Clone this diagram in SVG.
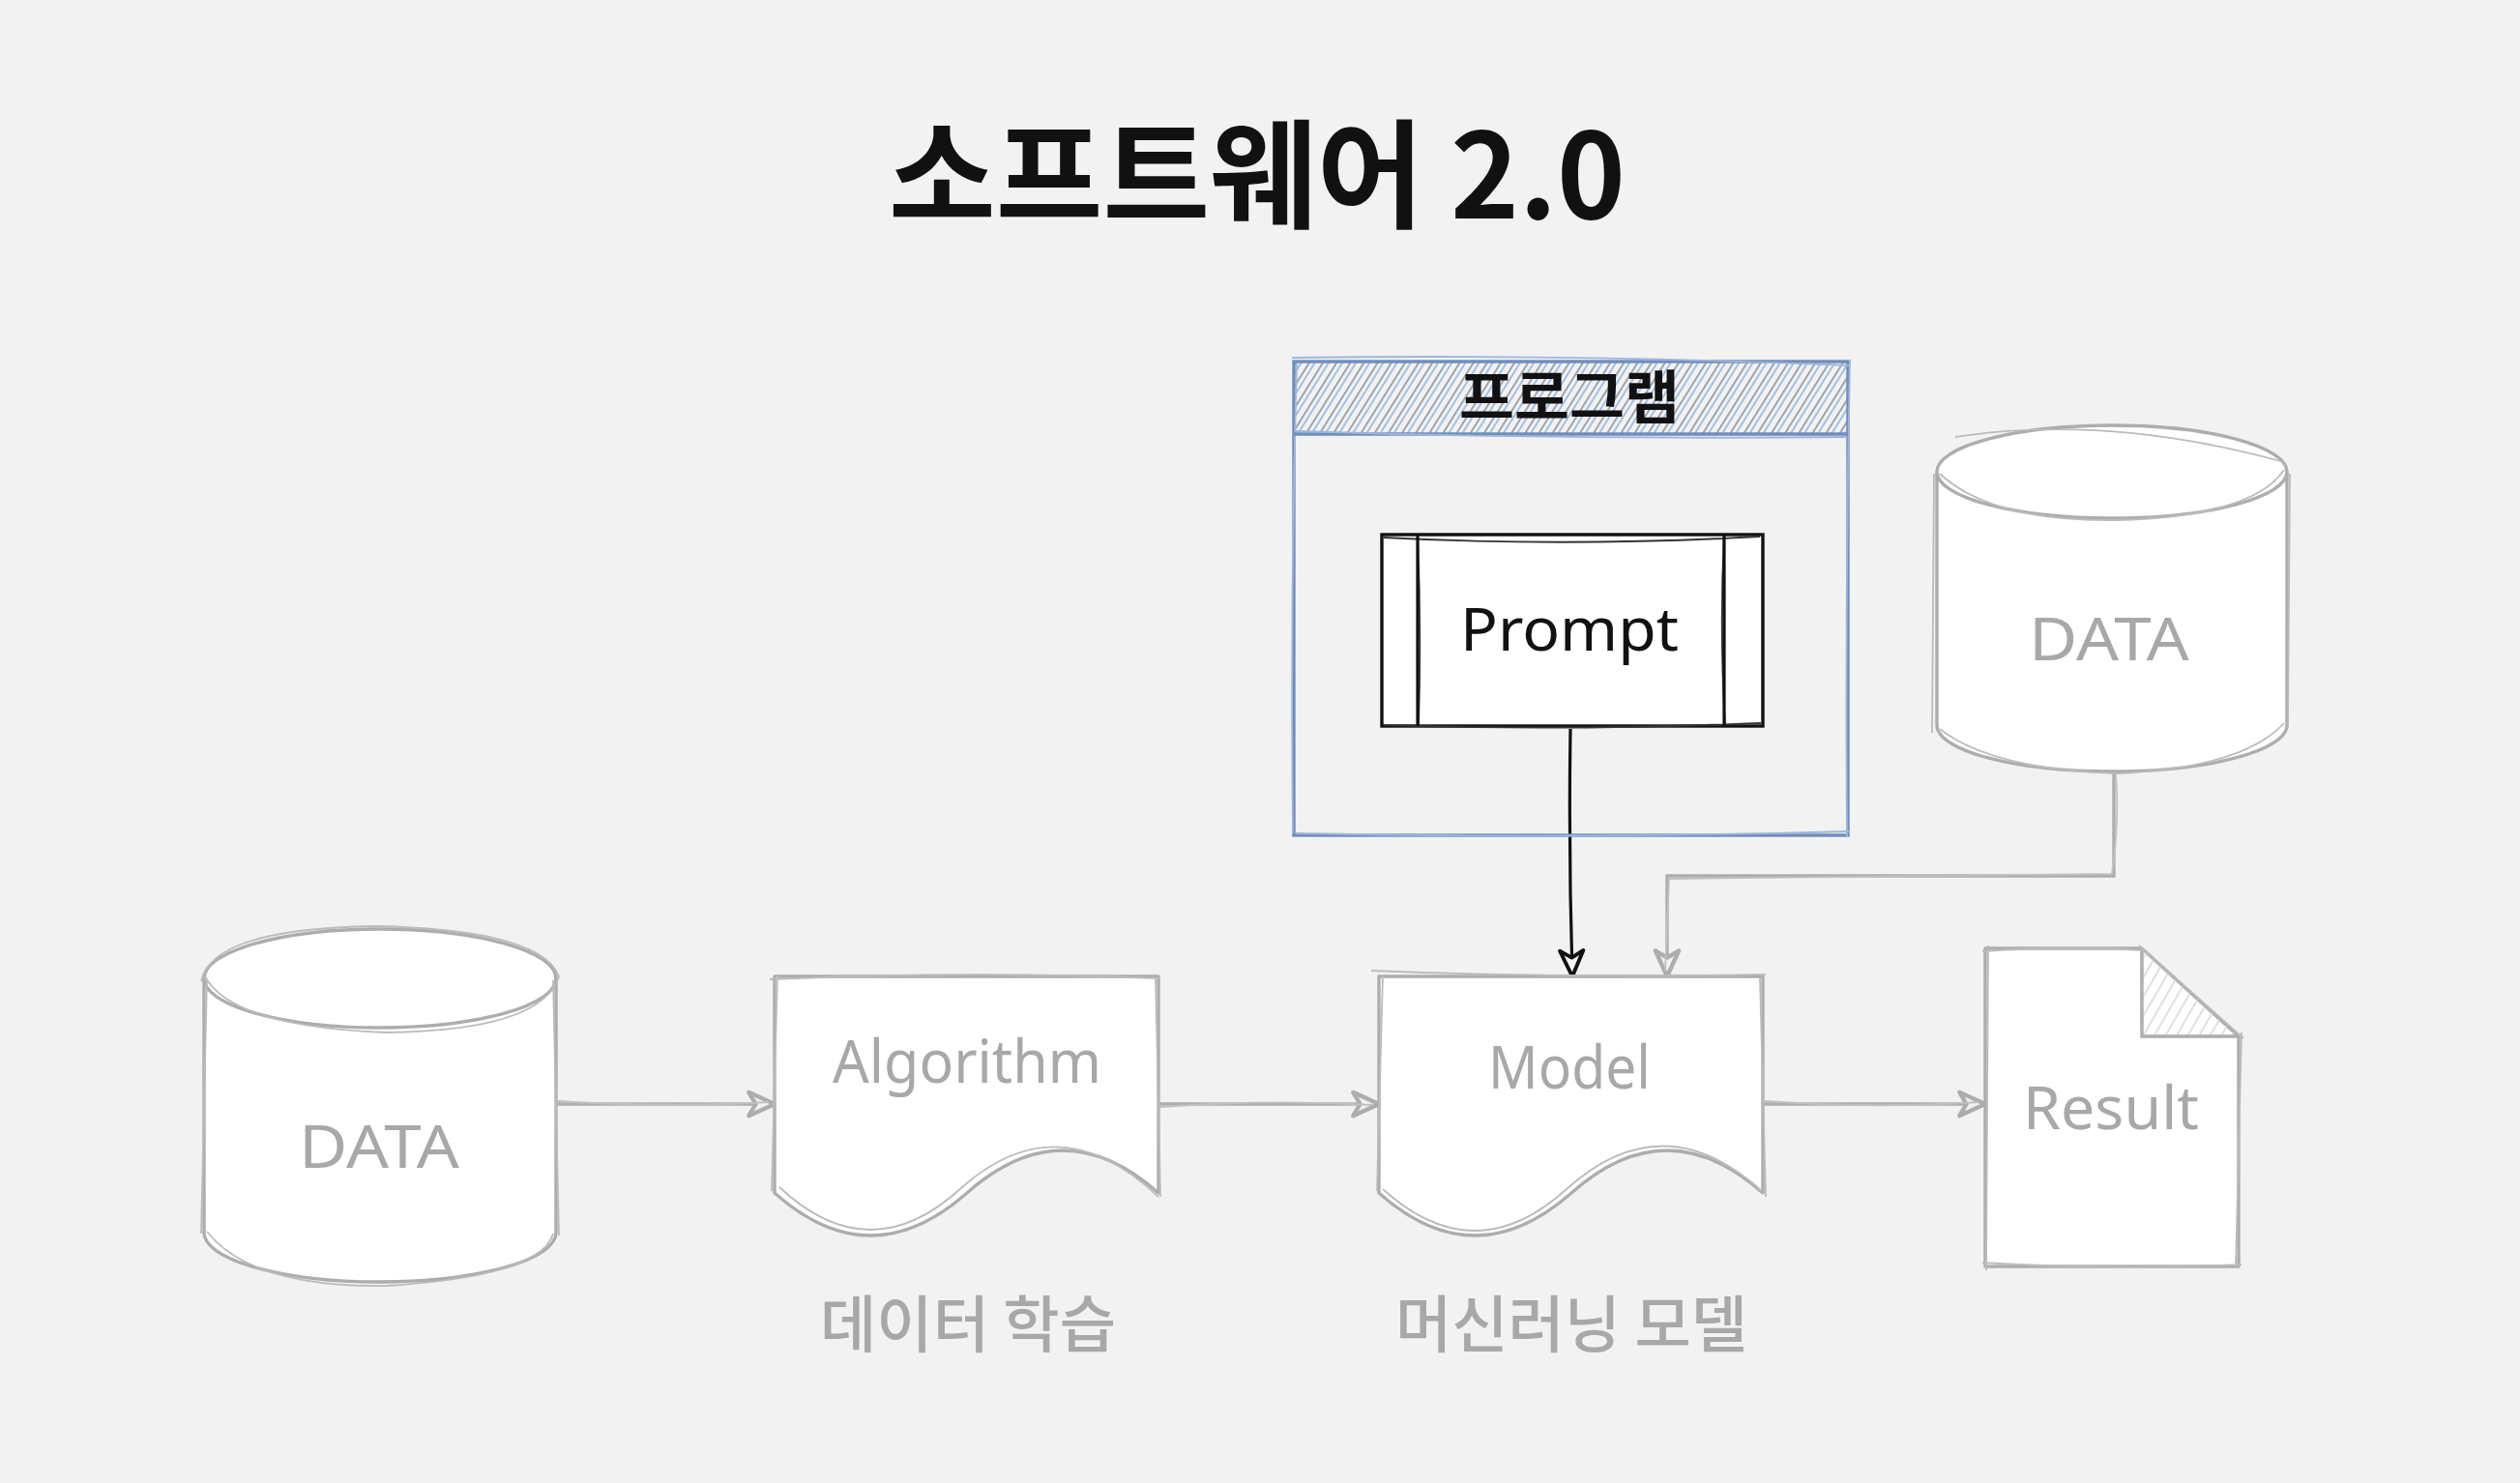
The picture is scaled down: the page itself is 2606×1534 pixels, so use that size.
<svg xmlns="http://www.w3.org/2000/svg" width="2606" height="1534" viewBox="0 0 2606 1534">
  <style>
    .bg { fill: #f2f2f2; }
    .g-shape { fill: #ffffff; stroke: #adadad; stroke-width: 3.4; stroke-linejoin: round; }
    .g-sk { fill: none; stroke: #bbbbbb; stroke-width: 1.8; stroke-linejoin: round; }
    .k-shape { fill: #ffffff; stroke: #111111; stroke-width: 3.4; }
    .k-sk { fill: none; stroke: #333333; stroke-width: 1.8; }
    .b-shape { fill: none; stroke: #6c8ebf; stroke-width: 3.4; }
    .b-sk { fill: none; stroke: #9fb6d8; stroke-width: 1.8; }
    .g-line { fill: none; stroke: #adadad; stroke-width: 3.4; }
    .g-line2 { fill: none; stroke: #c0c0c0; stroke-width: 1.8; }
    .k-line { fill: none; stroke: #111111; stroke-width: 3.2; }
    .hand { font-family: "Noto Sans", "Liberation Sans", sans-serif; font-size: 62px; text-anchor: middle; }
    .hand-g { fill: #a8a8a8; }
    .hand-k { fill: #111111; }
    .kr { font-family: "Noto Sans CJK KR", "Noto Sans", sans-serif; text-anchor: middle; }
  </style>
  <defs>
    <pattern id="hatchBlue" patternUnits="userSpaceOnUse" width="12" height="12" patternTransform="rotate(-58)">
      <line x1="0" y1="3" x2="12" y2="3" stroke="#9ea4ae" stroke-width="2"/>
      <line x1="0" y1="8" x2="12" y2="8" stroke="#a3bfe2" stroke-width="2"/>
    </pattern>
    <pattern id="hatchGray" patternUnits="userSpaceOnUse" width="10" height="10" patternTransform="rotate(-60)">
      <line x1="0" y1="5" x2="10" y2="5" stroke="#cfcfcf" stroke-width="1.3"/>
    </pattern>
    <marker id="arrG" viewBox="0 0 28 26" refX="25" refY="13" markerWidth="34" markerHeight="32" markerUnits="userSpaceOnUse" orient="auto">
      <path d="M3,3 L25,13 L3,23 L9,13 Z" fill="#f2f2f2" stroke="#adadad" stroke-width="3.6" stroke-linejoin="round"/>
    </marker>
    <marker id="arrK" viewBox="0 0 28 26" refX="25" refY="13" markerWidth="34" markerHeight="32" markerUnits="userSpaceOnUse" orient="auto">
      <path d="M3,3 L25,13 L3,23 L9,13 Z" fill="#f2f2f2" stroke="#111111" stroke-width="3.2" stroke-linejoin="round"/>
    </marker>
  </defs>

  <rect class="bg" x="0" y="0" width="2606" height="1534"/>

  <g id="title">
    <text class="kr" x="1300" y="226" font-size="122" font-weight="700" fill="#111111" textLength="762" lengthAdjust="spacingAndGlyphs">소프트웨어 2.0</text>
  </g>

  <g id="connectors">
    <path class="g-line" d="M575,1142 L801,1142" marker-end="url(#arrG)"/>
    <path class="g-line2" d="M577,1139 Q690,1146 795,1140"/>
    <path class="g-line" d="M1198,1142 L1426,1142" marker-end="url(#arrG)"/>
    <path class="g-line2" d="M1200,1145 Q1310,1137 1420,1143"/>
    <path class="g-line" d="M1823,1142 L2053,1142" marker-end="url(#arrG)"/>
    <path class="g-line2" d="M1825,1139 Q1940,1147 2046,1140"/>
    <path class="g-line" d="M2186,798 L2186,906 L1724,906 L1724,1010" marker-end="url(#arrG)"/>
    <path class="g-line2" d="M2188,800 Q2192,850 2184,904 L1726,909 L1722,1004"/>
    <path class="k-line" d="M1624,754 Q1622,880 1626,1010" marker-end="url(#arrK)"/>
  </g>

  <g id="program">
    <rect x="1338" y="374" width="573" height="75" fill="url(#hatchBlue)"/>
    <rect class="b-shape" x="1338" y="374" width="573" height="490"/>
    <path class="b-sk" d="M1336,370 Q1620,366 1914,378 M1913,372 Q1908,620 1910,866 M1340,862 Q1620,868 1912,860 M1341,376 Q1334,620 1337,862"/>
    <path class="b-shape" d="M1338,449 L1911,449"/>
    <path class="b-sk" d="M1340,446 Q1620,455 1910,452"/>
    <text class="kr" x="1623" y="433" font-size="60" font-weight="700" fill="#111111" textLength="228" lengthAdjust="spacingAndGlyphs">프로그램</text>
  </g>

  <g id="prompt">
    <rect class="k-shape" x="1429" y="553" width="394" height="198"/>
    <path class="k-sk" d="M1431,556 Q1620,566 1820,555 M1466,553 Q1470,650 1467,751 M1783,553 Q1778,650 1784,751 M1432,750 Q1620,756 1821,748"/>
    <path class="k-line" d="M1466,553 L1466,751 M1783,553 L1783,751"/>
    <text class="hand hand-k" x="1623" y="673" textLength="226" lengthAdjust="spacingAndGlyphs">Prompt</text>
  </g>

  <g id="data-left">
    <path class="g-shape" d="M211,1012 A182,51 0 0 1 575,1012 L575,1275 A182,51 0 0 1 211,1275 Z"/>
    <path class="g-shape" d="M211,1012 A182,51 0 0 0 575,1012"/>
    <path class="g-sk" d="M208,1015 Q220,960 390,958 Q560,962 578,1010 Q560,1066 400,1068 Q240,1062 212,1010 M214,1012 L208,1276 M572,1014 L578,1278 M214,1274 Q260,1332 400,1330 Q560,1320 572,1276"/>
    <text class="hand hand-g" x="392" y="1208" font-size="64" textLength="166" lengthAdjust="spacingAndGlyphs">DATA</text>
  </g>

  <g id="algorithm">
    <path class="g-shape" d="M801,1010 L1198,1010 L1198,1234 Q1099,1146 1000,1234 Q900,1322 801,1234 Z"/>
    <path class="g-sk" d="M796,1013 Q1000,1004 1200,1012 M804,1008 L798,1232 M1195,1012 L1200,1238 M1198,1238 Q1095,1140 995,1228 Q900,1316 806,1228"/>
    <text class="hand hand-g" x="1000" y="1120" textLength="278" lengthAdjust="spacingAndGlyphs">Algorithm</text>
  </g>

  <g id="model">
    <path class="g-shape" d="M1426,1010 L1823,1010 L1823,1234 Q1724,1146 1625,1234 Q1525,1322 1426,1234 Z"/>
    <path class="g-sk" d="M1418,1004 Q1620,1012 1826,1008 M1430,1008 L1424,1232 M1820,1012 L1826,1238 M1822,1232 Q1720,1140 1620,1230 Q1525,1316 1430,1230"/>
    <text class="hand hand-g" x="1623" y="1126" textLength="168" lengthAdjust="spacingAndGlyphs">Model</text>
  </g>

  <g id="data-right">
    <path class="g-shape" d="M2003,488 A181,48 0 0 1 2365,488 L2365,750 A181,48 0 0 1 2003,750 Z"/>
    <path class="g-shape" d="M2003,488 A181,48 0 0 0 2365,488"/>
    <path class="g-sk" d="M2022,452 Q2180,428 2362,478 M2006,490 Q2060,540 2190,538 Q2330,534 2362,486 M2000,490 L1998,758 M2368,490 L2366,752 M2006,754 Q2060,796 2190,800 Q2320,794 2362,748"/>
    <text class="hand hand-g" x="2181" y="683" font-size="64" textLength="166" lengthAdjust="spacingAndGlyphs">DATA</text>
  </g>

  <g id="result">
    <path class="g-shape" d="M2053,981 L2215,981 L2315,1072 L2315,1310 L2053,1310 Z"/>
    <path d="M2215,981 L2215,1072 L2315,1072 Z" fill="url(#hatchGray)" stroke="none"/>
    <path class="g-line" d="M2215,981 L2215,1072 L2315,1072"/>
    <path class="g-sk" d="M2050,984 Q2140,978 2218,983 M2056,978 L2054,1314 M2318,1068 L2312,1312 M2050,1306 Q2180,1314 2318,1308 M2212,978 L2320,1074"/>
    <text class="hand hand-g" x="2183" y="1168" textLength="182" lengthAdjust="spacingAndGlyphs">Result</text>
  </g>

  <g id="label-learning">
    <text class="kr" x="1001" y="1393" font-size="64" font-weight="500" fill="#a8a8a8" textLength="306" lengthAdjust="spacingAndGlyphs">데이터 학습</text>
  </g>
  <g id="label-ml">
    <text class="kr" x="1625" y="1393" font-size="64" font-weight="500" fill="#a8a8a8" textLength="364" lengthAdjust="spacingAndGlyphs">머신러닝 모델</text>
  </g>
</svg>
